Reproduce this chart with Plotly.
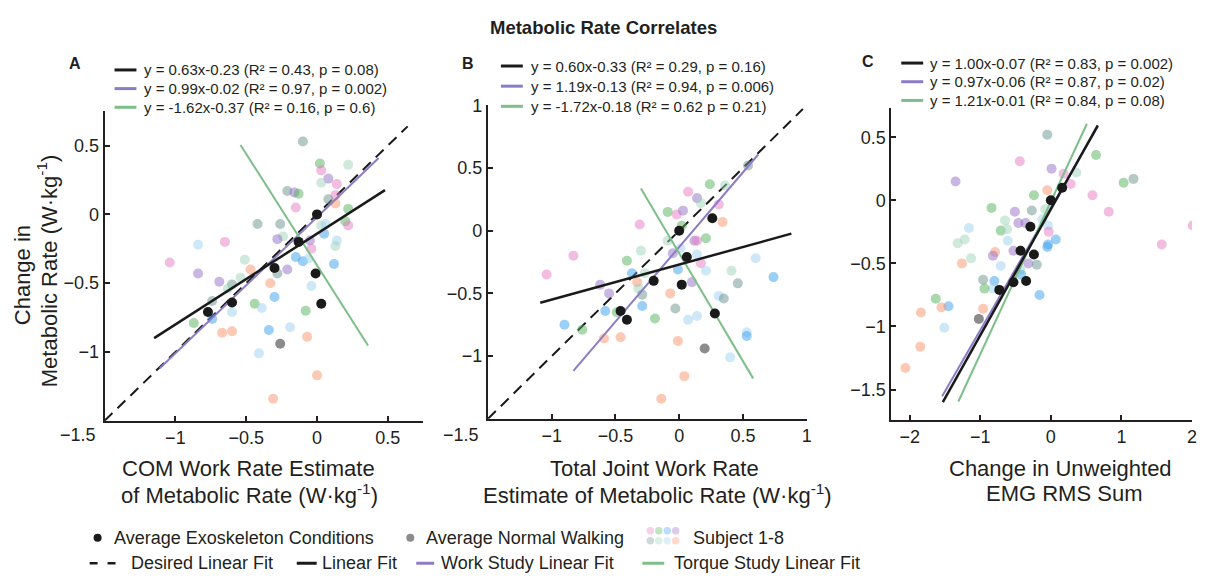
import plotly.graph_objects as go

W, H = 1211, 577
FONT = "Liberation Sans, Arial, Helvetica, sans-serif"
AX = "#231f20"

# ---------------- data ----------------
subject_colors = ["rgba(229,123,193,0.5)", "rgba(81,177,89,0.5)", "rgba(57,159,237,0.5)",
                  "rgba(149,109,197,0.5)", "rgba(105,145,141,0.5)", "rgba(159,211,185,0.5)",
                  "rgba(159,209,241,0.5)", "rgba(249,147,107,0.5)"]
SUBJ = {"P": 0, "G": 1, "B": 2, "U": 3, "T": 4, "M": 5, "L": 6, "S": 7}

# Panel A: COM work rate estimate
a_subj_x = [-0.10, 0.02, 0.22, 0.03, 0.08, 0.03, 0.14, -0.21, -0.16, -0.13, 0.13, 0.08, 0.13, -0.15, 0.22,
            -0.42, -0.26, 0.03, 0.06, 0.20, 0.22, 0.05, -0.84, -0.65, -0.24, -0.28, -0.05, 0.14, 0.13, -0.04,
            -0.15, -0.10, -0.06, -0.51, -1.04, 0.12, -0.47, -0.21, -0.28, -0.84, -0.54, -0.69, -0.60, -0.33,
            -0.63, -0.04, -0.30, -0.74, -0.44, -0.39, -0.60, -0.74, -0.87, -0.08, -0.34, -0.19, -0.67, -0.60,
            -0.07, -0.41, 0.00, -0.31]
a_subj_y = [0.53, 0.37, 0.36, 0.32, 0.26, 0.23, 0.22, 0.17, 0.16, 0.15, 0.14, 0.11, 0.08, 0.05, 0.04,
            -0.07, -0.07, -0.08, -0.07, -0.05, -0.08, -0.14, -0.22, -0.20, -0.16, -0.18, -0.19, -0.19, -0.23, -0.25,
            -0.31, -0.34, -0.32, -0.33, -0.35, -0.36, -0.40, -0.40, -0.43, -0.43, -0.46, -0.49, -0.51, -0.50,
            -0.54, -0.52, -0.60, -0.63, -0.65, -0.68, -0.71, -0.76, -0.79, -0.70, -0.84, -0.82, -0.86, -0.85,
            -0.89, -1.01, -1.17, -1.34]
a_subj_id = list("TGMPUMPTUGPTSPG" "TTMLGPBLPMUULMP" "BBLMPBSUTUMUTS" "MLBTGLLBGGBLSS" "SLSS")
a_exo_x = [-0.77, -0.60, -0.30, -0.13, 0.00, -0.01, 0.03]
a_exo_y = [-0.71, -0.64, -0.39, -0.20, 0.00, -0.43, -0.65]
a_nw_x = [-0.26]
a_nw_y = [-0.94]
a_fit_slope = [0.66, 0.99, -1.62]          # black, purple, green (as drawn)
a_fit_icpt = [-0.14, -0.02, -0.37]
a_fit_x0 = [-1.15, -1.11, -0.54]
a_fit_x1 = [0.48, 0.435, 0.36]
a_desired = [-1.5, 0.64]
a_legend = ["y = 0.63x-0.23 (R² = 0.43, p = 0.08)",
            "y = 0.99x-0.02 (R² = 0.97, p = 0.002)",
            "y = -1.62x-0.37 (R² = 0.16, p = 0.6)"]

# Panel B: total joint work rate estimate
b_subj_x = [0.54, 0.24, 0.36, 0.07, 0.14, 0.17, 0.31, -0.09, -0.02, 0.03, 0.34, -0.31, 0.02, -0.09, 0.12,
            0.14, 0.21, -0.30, 0.01, -0.05, -0.83, 0.14, 0.60, 0.17, -0.41, -0.01, 0.21, 0.41, -0.37, -1.04,
            -0.27, 0.74, 0.10, -0.33, 0.46, -0.62, -0.32, -0.55, -0.07, -0.29, 0.31, 0.35, -0.29, -0.03,
            -0.58, -0.49, -0.19, 0.07, 0.14, -0.90, -0.76, 0.53, 0.53, -0.59, -0.46, -0.01, 0.40, 0.04, -0.14]
b_subj_y = [0.52, 0.37, 0.36, 0.31, 0.26, 0.22, 0.21, 0.15, 0.13, 0.16, 0.07, 0.05, 0.04, -0.08, -0.08,
            -0.08, -0.06, -0.16, -0.14, -0.18, -0.20, -0.19, -0.22, -0.26, -0.24, -0.31, -0.32, -0.32, -0.34, -0.35,
            -0.34, -0.37, -0.41, -0.41, -0.42, -0.43, -0.46, -0.50, -0.50, -0.51, -0.52, -0.54, -0.60, -0.62,
            -0.64, -0.65, -0.70, -0.71, -0.68, -0.75, -0.79, -0.81, -0.84, -0.86, -0.85, -0.88, -1.01, -1.16, -1.34]
b_subj_id = list("TGMPUMPGPUSPGMU" "PGMLUPLLPGBLMBP" "MBUSTUMUSTLTBT" "BGGLLBGLBSSSL" "SS")
b_exo_x = [0.00, 0.26, 0.06, -0.20, 0.02, -0.46, -0.41, 0.28]
b_exo_y = [0.00, 0.10, -0.21, -0.40, -0.43, -0.64, -0.71, -0.66]
b_nw_x = [0.20]
b_nw_y = [-0.94]
b_fit_slope = [0.28, 1.19, -1.72]
b_fit_icpt = [-0.27, -0.13, -0.18]
b_fit_x0 = [-1.09, -0.83, -0.30]
b_fit_x1 = [0.88, 0.62, 0.58]
b_desired = [-1.5, 0.97]
b_legend = ["y = 0.60x-0.33 (R² = 0.29, p = 0.16)",
            "y = 1.19x-0.13 (R² = 0.94, p = 0.006)",
            "y = -1.72x-0.18 (R² = 0.62 p = 0.21)"]

# Panel C: EMG RMS sum
c_subj_x = [-0.05, 0.64, -0.44, 0.01, -1.35, 0.36, 0.18, 0.28, 1.17, 1.03, 0.59, -0.05, -0.24, -0.84, -0.51,
            -0.27, -0.08, 0.82, -0.65, -0.46, -0.36, -0.12, -0.04, 2.01, -1.16, -0.71, -0.62, -0.03, -0.61, 0.07,
            -0.04, -0.05, -1.32, -1.22, 1.57, -0.53, -0.79, -0.82, -1.13, -1.26, -0.32, -0.20, -0.71, -0.43,
            -0.42, -0.96, -0.80, -0.82, -0.94, -0.16, -1.63, -1.45, -1.55, -0.96, -1.84, -1.51, -1.85, -2.06]
c_subj_y = [0.52, 0.36, 0.31, 0.25, 0.15, 0.22, 0.21, 0.13, 0.17, 0.14, 0.04, 0.08, 0.04, -0.06, -0.09,
            -0.08, -0.07, -0.09, -0.16, -0.18, -0.18, -0.15, -0.20, -0.20, -0.22, -0.24, -0.23, -0.25, -0.32, -0.31,
            -0.35, -0.37, -0.34, -0.31, -0.35, -0.40, -0.41, -0.44, -0.46, -0.50, -0.50, -0.51, -0.52, -0.55,
            -0.59, -0.63, -0.64, -0.70, -0.70, -0.75, -0.78, -0.84, -0.85, -0.86, -0.89, -1.01, -1.16, -1.33]
c_subj_id = list("TGPUUMPPTGPSGGU" "TMPMUULLPLGMPLB" "BBMMPUSUMSUTLM" "BTBLGBGBSSSLSS")
c_exo_x = [0.16, 0.00, -0.29, -0.43, -0.24, -0.35, -0.53, -0.73]
c_exo_y = [0.10, 0.00, -0.21, -0.40, -0.43, -0.64, -0.65, -0.71]
c_nw_x = [-1.02]
c_nw_y = [-0.94]
c_fit_slope = [1.00, 0.97, 1.21]
c_fit_icpt = [-0.07, -0.06, -0.01]
c_fit_x0 = [-1.53, -1.54, -1.31]
c_fit_x1 = [0.665, 0.665, 0.51]
c_legend = ["y = 1.00x-0.07 (R² = 0.83, p = 0.002)",
            "y = 0.97x-0.06 (R² = 0.87, p = 0.02)",
            "y = 1.21x-0.01 (R² = 0.84, p = 0.08)"]

fit_colors = ["#1a1a1a", "#8c7cc6", "#7dbf88"]
fit_widths = [2.5, 2, 2]

a_xticks = [-1, -0.5, 0, 0.5]
a_yticks = [-1, -0.5, 0, 0.5]
b_xticks = [-1, -0.5, 0, 0.5, 1]
b_yticks = [-1, -0.5, 0, 0.5, 1]
c_xticks = [-2, -1, 0, 1, 2]
c_yticks = [-1.5, -1, -0.5, 0, 0.5]

# ---------------- figure ----------------
fig = go.Figure()


def add_panel(xa, ya, sx, sy, sid, ex, ey, nx, ny, slopes, icpts, x0s, x1s, desired):
    if desired is not None:
        fig.add_trace(go.Scatter(x=desired, y=desired, mode="lines", xaxis=xa, yaxis=ya,
                                 line=dict(color="#1a1a1a", width=2, dash="11px,7px"), hoverinfo="skip"))
    fig.add_trace(go.Scatter(x=sx, y=sy, mode="markers", xaxis=xa, yaxis=ya,
                             marker=dict(size=10, color=[subject_colors[SUBJ[s]] for s in sid],
                                         line=dict(width=0))))
    for k in [1, 2, 0]:
        xs = [x0s[k], x1s[k]]
        ys = [slopes[k] * v + icpts[k] for v in xs]
        fig.add_trace(go.Scatter(x=xs, y=ys, mode="lines", xaxis=xa, yaxis=ya,
                                 line=dict(color=fit_colors[k], width=fit_widths[k])))
    fig.add_trace(go.Scatter(x=nx, y=ny, mode="markers", xaxis=xa, yaxis=ya,
                             marker=dict(size=10, color="#8c8c8e", line=dict(width=0))))
    fig.add_trace(go.Scatter(x=ex, y=ey, mode="markers", xaxis=xa, yaxis=ya,
                             marker=dict(size=10, color="#1a1a1a", line=dict(width=0))))


add_panel("x", "y", a_subj_x, a_subj_y, a_subj_id, a_exo_x, a_exo_y, a_nw_x, a_nw_y,
          a_fit_slope, a_fit_icpt, a_fit_x0, a_fit_x1, a_desired)
add_panel("x2", "y2", b_subj_x, b_subj_y, b_subj_id, b_exo_x, b_exo_y, b_nw_x, b_nw_y,
          b_fit_slope, b_fit_icpt, b_fit_x0, b_fit_x1, b_desired)
add_panel("x3", "y3", c_subj_x, c_subj_y, c_subj_id, c_exo_x, c_exo_y, c_nw_x, c_nw_y,
          c_fit_slope, c_fit_icpt, c_fit_x0, c_fit_x1, None)


def px(v):
    return v / W


def py(v):
    return 1 - v / H


common = dict(showline=True, linecolor=AX, linewidth=2, ticks="inside", ticklen=5, tickwidth=2,
              tickcolor=AX, showgrid=False, zeroline=False,
              tickfont=dict(size=18, color=AX, family=FONT))

fig.update_layout(
    width=W, height=H, margin=dict(l=0, r=0, t=0, b=0),
    paper_bgcolor="white", plot_bgcolor="white", showlegend=False,
    font=dict(family=FONT, color=AX),
    xaxis=dict(domain=[px(105), px(425)], range=[-1.5, 0.75], tickvals=a_xticks, anchor="y", **common),
    yaxis=dict(domain=[py(418), py(103)], range=[-1.5, 0.75], tickvals=a_yticks, anchor="x", **common),
    xaxis2=dict(domain=[px(490), px(810)], range=[-1.5, 1.0], tickvals=b_xticks, anchor="y2", **common),
    yaxis2=dict(domain=[py(416), py(97)], range=[-1.5, 1.0], tickvals=b_yticks, anchor="x2", **common),
    xaxis3=dict(domain=[px(895), px(1197)], range=[-2.26, 2.0], tickvals=c_xticks, anchor="y3", **common),
    yaxis3=dict(domain=[py(417), py(100)], range=[-1.74, 0.73], tickvals=c_yticks, anchor="x3", **common),
)

ann = []
shapes = []


def text(x, y, s, size, xanchor="center", bold=False, angle=0, color=AX):
    ann.append(dict(x=px(x), y=py(y), xref="paper", yref="paper", text=("<b>%s</b>" % s) if bold else s,
                    showarrow=False, xanchor=xanchor, yanchor="middle", textangle=angle,
                    font=dict(size=size, family=FONT, color=color)))


def hline(x0, x1, y, color, width=3, dash="solid"):
    shapes.append(dict(type="line", xref="paper", yref="paper", x0=px(x0), x1=px(x1), y0=py(y), y1=py(y),
                       line=dict(color=color, width=width, dash=dash)))


def dot(x, y, d, color):
    shapes.append(dict(type="circle", xref="paper", yref="paper", xsizemode="pixel", ysizemode="pixel",
                       xanchor=px(x), yanchor=py(y), x0=-d / 2, x1=d / 2, y0=-d / 2, y1=d / 2,
                       fillcolor=color, line=dict(width=0)))


# title
text(606, 18, "Metabolic Rate Correlates", 18.5, bold=True)
# panel letters
text(75, 54, "A", 16, bold=True)
text(470, 54, "B", 16, bold=True)
text(872, 52, "C", 16, bold=True)

# panel fit legends
for labels, lx0, tx, rows in [(a_legend, 115, 143, [61, 80, 99]),
                              (b_legend, 503, 531, [57, 77.5, 98]),
                              (c_legend, 905, 932, [54, 73, 92])]:
    for k in range(3):
        hline(lx0, lx0 + 22, rows[k], fit_colors[k], 3)
        text(tx, rows[k], labels[k], 15, xanchor="left")

# corner tick labels
text(98, 433, "\u22121.5", 18, xanchor="right")
text(483, 433, "\u22121.5", 18, xanchor="right")

# axis titles
text(22, 270, "Change in", 22, angle=-90)
text(48, 265, "Metabolic Rate (W\u00b7kg<sup>-1</sup>)", 22, angle=-90)
text(250, 467, "COM Work Rate Estimate", 22)
text(251, 493, "of Metabolic Rate (W\u00b7kg<sup>-1</sup>)", 22)
text(657, 467, "Total Joint Work Rate", 22)
text(660, 493, "Estimate of Metabolic Rate (W\u00b7kg<sup>-1</sup>)", 22)
text(1065, 467, "Change in Unweighted", 22)
text(1068, 492, "EMG RMS Sum", 22)

# bottom legend
dot(98, 537, 8, "#1a1a1a")
text(112, 537, "Average Exoskeleton Conditions", 18, xanchor="left")
dot(412, 537, 8, "#8c8c8e")
text(426, 537, "Average Normal Walking", 18, xanchor="left")
for i in range(8):
    dot(653 + 8.5 * (i % 4), 530 + 10 * (i // 4), 7.5, subject_colors[i].replace("0.5)", "0.35)"))
text(694, 537, "Subject 1-8", 18, xanchor="left")

hline(90, 98, 563, "#1a1a1a", 2.5)
hline(108, 116, 563, "#1a1a1a", 2.5)
text(130, 563, "Desired Linear Fit", 18, xanchor="left")
hline(298, 318, 563, "#1a1a1a", 3)
text(321, 563, "Linear Fit", 18, xanchor="left")
hline(418, 436, 563, fit_colors[1], 3)
text(441, 563, "Work Study Linear Fit", 18, xanchor="left")
hline(645, 667, 563, fit_colors[2], 3)
text(675, 563, "Torque Study Linear Fit", 18, xanchor="left")

fig.update_layout(annotations=ann, shapes=shapes)
fig.write_html("out.html")
